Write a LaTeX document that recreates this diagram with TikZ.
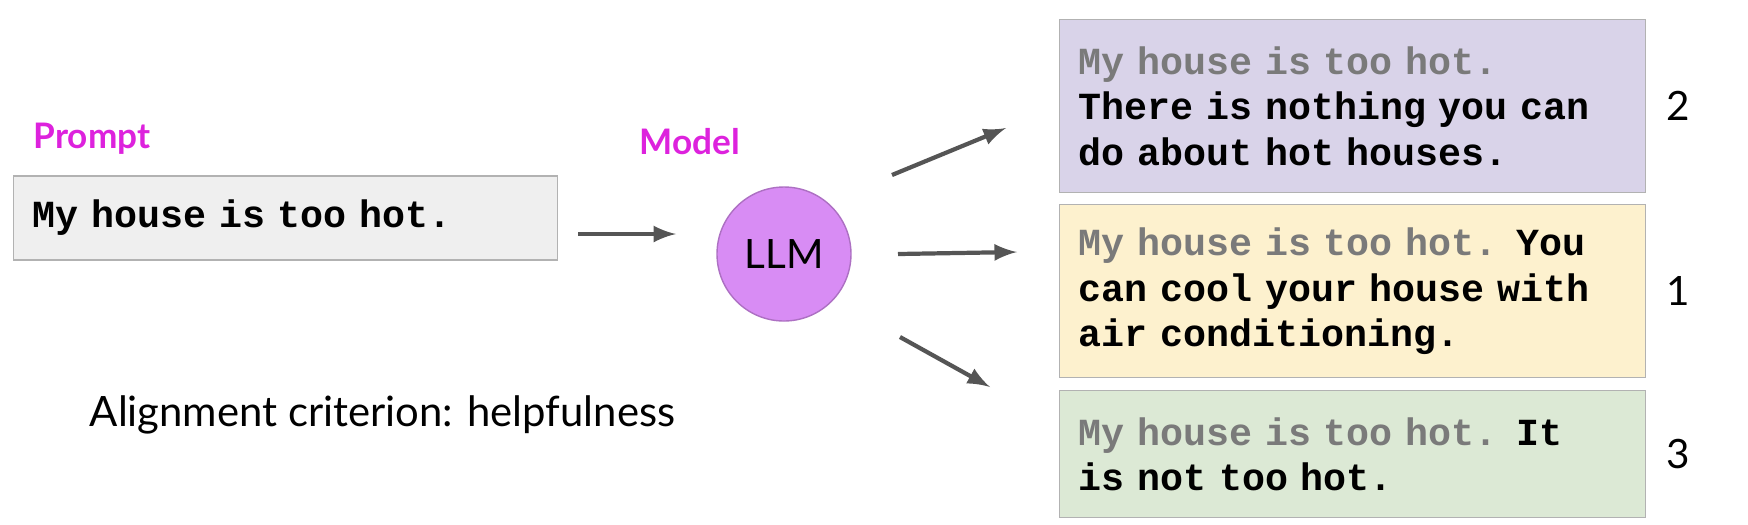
\documentclass[tikz,border=0pt]{standalone}
\usepackage{fontspec}
\setmainfont{Lato}
\setmonofont{Liberation Mono}
\usetikzlibrary{calc,positioning}
\definecolor{magen}{HTML}{DD22DD}
\definecolor{llmfill}{HTML}{D88CF4}
\definecolor{boxgray}{HTML}{EFEFEF}
\definecolor{boxpurple}{HTML}{D9D3E9}
\definecolor{boxyellow}{HTML}{FDF1CE}
\definecolor{boxgreen}{HTML}{DCE9D5}
\definecolor{promptgray}{HTML}{7A7A7A}
\definecolor{arrgray}{HTML}{555555}
\tikzset{
    resp/.style={draw=black!30, anchor=north west, align=left, text width=5.48cm,
        inner xsep=0.19cm, font=\fontsize{10.9}{13}\selectfont\ttfamily\bfseries},
    arr/.style={-latex, draw=arrgray, line width=1.2pt},
    lbl/.style={text=magen, font=\fontsize{10}{12}\selectfont\bfseries},
}
\newcommand{\pr}{\textcolor{promptgray}{My house is too hot.}}
\begin{document}
\begin{tikzpicture}[every node/.style={inner sep=2pt}]
    \useasboundingbox (0,0) rectangle (17.48,-5.24);

    \node[resp, fill=boxgray, text width=5.06cm, minimum height=0.84cm, anchor=west] (prompt) at (0.13,-2.18) {My house is too hot.};
    \node[lbl, anchor=south west] (plab) at (0.26,-1.62) {Prompt};

    \node[circle, draw=llmfill!80!black, fill=llmfill, minimum size=1.34cm,
        font=\fontsize{11.5}{13}\selectfont] (llm) at (7.84,-2.54) {LLM};
    \node[lbl, anchor=south] (mlab) at (6.90,-1.62) {Model};

    % responses
    \node[resp, fill=boxpurple, minimum height=1.73cm] (r1) at (10.59,-0.19)
        {\pr\\There is nothing you can\\do about hot houses.};
    \node[resp, fill=boxyellow, minimum height=1.73cm] (r2) at (10.59,-2.04)
        {\pr{} You\\can cool your house with\\air conditioning.};
    \node[resp, fill=boxgreen, minimum height=1.27cm] (r3) at (10.59,-3.90)
        {\pr{} It\\is not too hot.};

    % ranks
    \node[font=\fontsize{11.5}{13}\selectfont, right=1.2mm of r1] (n1) {2};
    \node[font=\fontsize{11.5}{13}\selectfont, right=1.2mm of r2] (n2) {1};
    \node[font=\fontsize{11.5}{13}\selectfont, right=1.2mm of r3] (n3) {3};

    % arrow ends
    \coordinate (p0) at (5.78,-2.34);
    \coordinate (p1) at (6.76,-2.34);
    \coordinate (a1) at (8.92,-1.75);
    \coordinate (b1) at (10.06,-1.28);
    \coordinate (a2) at (8.98,-2.54);
    \coordinate (b2) at (10.17,-2.52);
    \coordinate (a3) at (9.00,-3.37);
    \coordinate (b3) at (9.90,-3.87);

    \draw[arr] (p0) -- (p1);
    \draw[arr] (a1) -- (b1);
    \draw[arr] (a2) -- (b2);
    \draw[arr] (a3) -- (b3);

    \node[anchor=west, font=\fontsize{11.9}{13}\selectfont] (crit) at (0.82,-4.15) {Alignment criterion: helpfulness};
\end{tikzpicture}
\end{document}
